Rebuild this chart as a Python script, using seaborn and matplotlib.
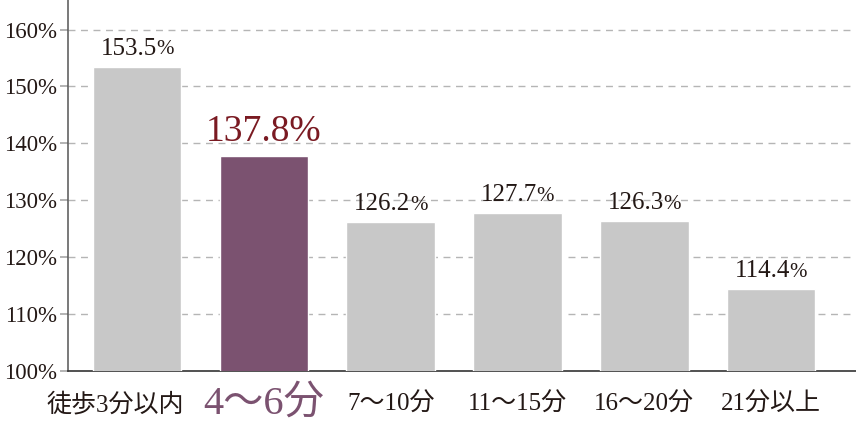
import matplotlib
matplotlib.use("Agg")
import matplotlib.pyplot as plt
import matplotlib.transforms as mtrans
import seaborn as sns
import pandas as pd

categories = ["徒歩3分以内", "4〜6分", "7〜10分", "11〜15分", "16〜20分", "21分以上"]
values = [153.5, 137.8, 126.2, 127.7, 126.3, 114.4]
highlight = "4〜6分"
yticks = [100, 110, 120, 130, 140, 150, 160]

sns.set_theme(style="white")
plt.rcParams['font.family'] = ['Liberation Serif', 'Noto Sans CJK JP']

GRAY = "#c8c8c8"
PURPLE = "#7b5270"
DARKRED = "#7a1a22"
TEXT = "#231815"

df = pd.DataFrame({"cat": categories, "val": values})
palette = {c: (PURPLE if c == highlight else GRAY) for c in categories}

fig = plt.figure(figsize=(8.56, 4.24), dpi=100)
ax = fig.add_axes([68/856, 53/424, 1 - 68/856, 1 - 53/424])

sns.barplot(data=df, x="cat", y="val", hue="cat", palette=palette, legend=False,
            width=0.7, saturation=1, ax=ax, zorder=3)
ax.set_ylim(100, 165.2)
ax.set_xlim(-0.545, 5.67)

ax.set_yticks(yticks)
ax.set_yticklabels([f"{t}%" for t in yticks], fontsize=16.5, color=TEXT)
for t in yticks[1:]:
    ax.axhline(t, color="#b5b5b5", lw=1, ls=(0, (5, 4)), zorder=1)

for s in ["top", "right"]:
    ax.spines[s].set_visible(False)
ax.spines["left"].set_color("#555555")
ax.spines["bottom"].set_color("#333333")
ax.spines["left"].set_linewidth(1.1)
ax.spines["bottom"].set_linewidth(1.2)
ax.tick_params(axis="y", length=6, color="#aaaaaa", pad=2, left=True)
ax.tick_params(axis="x", length=0, pad=8)
ax.set_xlabel("")
ax.set_ylabel("")

for k, lbl in enumerate(ax.get_xticklabels()):
    if lbl.get_text() == highlight:
        lbl.set_fontsize(29)
        lbl.set_color(PURPLE)
    else:
        lbl.set_fontsize(18)
        lbl.set_color(TEXT)
    lbl.set_va("center")
    lbl.set_y(-0.06)
    if k == 0:
        lbl.set_transform(lbl.get_transform() +
                          mtrans.ScaledTranslation(-22/100, 0, fig.dpi_scale_trans))

NUM_SIZE = 18
PCT_SIZE = 15
pct_w = 0.8 * PCT_SIZE  # approximate width of % in points
for i, v in enumerate(values):
    if categories[i] == highlight:
        ax.annotate(f"{v:.1f}%", (i, v), xytext=(0, 5), textcoords="offset points",
                    ha="center", va="bottom", fontsize=27, color=DARKRED)
    else:
        t = ax.annotate(f"{v:.1f}", (i, v), xytext=(-pct_w / 2, 5), textcoords="offset points",
                        ha="center", va="bottom", fontsize=NUM_SIZE, color=TEXT)
        ax.annotate("%", xy=(1, 0), xycoords=t, xytext=(-0.5, 0.3), textcoords="offset points",
                    ha="left", va="bottom", fontsize=PCT_SIZE, color=TEXT)

fig.savefig("out.png", dpi=100)
